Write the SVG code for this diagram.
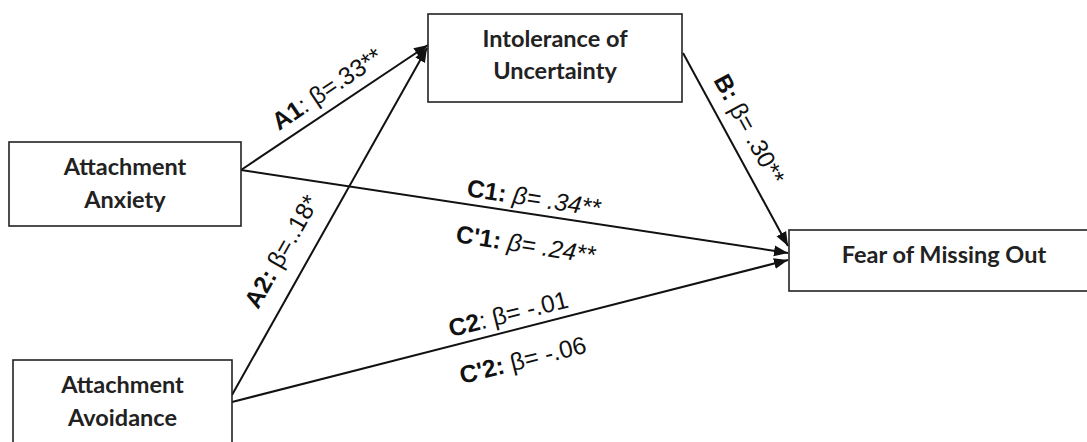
<svg xmlns="http://www.w3.org/2000/svg" width="1087" height="442" viewBox="0 0 1087 442">
  <defs>
    <marker id="arrow" markerUnits="userSpaceOnUse" markerWidth="16" markerHeight="12" refX="14" refY="6" orient="auto">
      <path d="M0,0.5 L14,6 L0,11.5 z" fill="#111"/>
    </marker>
    <style>
      .box { fill: #fff; stroke: #222; stroke-width: 1.6; }
      .nt { font-family: Lato, "Open Sans", sans-serif; font-weight: bold; font-size: 23.5px; fill: #222; text-anchor: middle; }
      .conn { stroke: #111; stroke-width: 2; fill: none; marker-end: url(#arrow); }
      .lbl { font-family: "Liberation Sans", Arial, sans-serif; font-size: 24.5px; fill: #111; }
      .b { font-weight: bold; }
      .i { font-style: italic; }
    </style>
  </defs>
  <rect width="1087" height="442" fill="#fff"/>

  <g id="connectors">
    <line class="conn" x1="241" y1="170" x2="428" y2="45"/>
    <line class="conn" x1="232" y1="395" x2="427" y2="48"/>
    <line class="conn" x1="683" y1="53" x2="788" y2="246"/>
    <line class="conn" x1="241" y1="170" x2="788" y2="253"/>
    <line class="conn" x1="232" y1="402" x2="788" y2="260"/>
  </g>

  <g id="labels">
    <text class="lbl" transform="translate(279,131) rotate(-33.8)"><tspan class="b">A1</tspan>: β=.33**</text>
    <text class="lbl" transform="translate(258,310) rotate(-60.4)"><tspan class="b">A2:</tspan> β=..18*</text>
    <text class="lbl" transform="translate(713,80) rotate(61.5)"><tspan class="b">B:</tspan> β= .30**</text>
    <text class="lbl" transform="translate(466,196) rotate(8.8)"><tspan class="b">C1:</tspan><tspan class="i"> β= .34**</tspan></text>
    <text class="lbl" transform="translate(455,242) rotate(8.8)"><tspan class="b">C'1:</tspan><tspan class="i"> β= .24**</tspan></text>
    <text class="lbl" transform="translate(451,337) rotate(-14.1)"><tspan class="b">C2</tspan>: β= -.01</text>
    <text class="lbl" transform="translate(462,384) rotate(-14.1)"><tspan class="b">C'2:</tspan> β= -.06</text>
  </g>

  <g id="node-intolerance">
    <rect class="box" x="428" y="14" width="254" height="88"/>
    <text class="nt" x="555" y="47">Intolerance of</text>
    <text class="nt" x="555" y="79">Uncertainty</text>
  </g>

  <g id="node-anxiety">
    <rect class="box" x="9" y="142" width="232" height="84"/>
    <text class="nt" x="125" y="175">Attachment</text>
    <text class="nt" x="125" y="208">Anxiety</text>
  </g>

  <g id="node-avoidance">
    <rect class="box" x="13" y="360" width="219" height="100"/>
    <text class="nt" x="122.5" y="393">Attachment</text>
    <text class="nt" x="122.5" y="426">Avoidance</text>
  </g>

  <g id="node-fomo">
    <rect class="box" x="789" y="230" width="310" height="61"/>
    <text class="nt" x="944" y="263">Fear of Missing Out</text>
  </g>
</svg>
